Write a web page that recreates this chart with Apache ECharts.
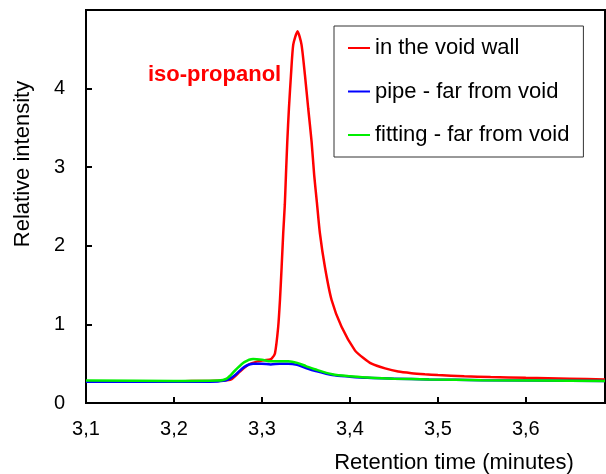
<!DOCTYPE html>
<html><head><meta charset="utf-8">
<script src="https://cdn.jsdelivr.net/npm/echarts@6/dist/echarts.min.js"></script>
<style>html,body{margin:0;padding:0;background:#fff}#c{width:606px;height:474px}</style>
</head><body><div id="c"></div>
<script>
const xTicks = [3.1, 3.2, 3.3, 3.4, 3.5, 3.6];
const yTicks = [0, 1, 2, 3, 4];
const seriesNames = ['in the void wall', 'pipe - far from void', 'fitting - far from void'];
const redT = [3.10,3.15,3.20,3.22,3.24,3.255,3.265,3.275,3.285,3.295,3.303,3.308,3.311,3.3148,3.3185,3.3205,3.3224,3.3242,3.326,3.3273,3.3288,3.3307,3.333,3.3356,3.3405,3.345,3.3489,3.3526,3.3565,3.3594,3.3625,3.3659,3.3716,3.3792,3.3905,3.4057,3.415,3.4246,3.44,3.4549,3.47,3.4852,3.50,3.53,3.56,3.60,3.65,3.69];
const redV = [0.27,0.27,0.275,0.28,0.28,0.285,0.30,0.40,0.49,0.53,0.545,0.55,0.565,0.63,0.97,1.31,1.73,2.16,2.52,2.90,3.32,3.75,4.17,4.56,4.73,4.56,4.17,3.75,3.32,2.90,2.55,2.16,1.73,1.31,0.97,0.67,0.575,0.50,0.44,0.40,0.38,0.366,0.355,0.34,0.33,0.32,0.31,0.30];
const blueT = [3.10,3.20,3.25,3.26,3.27,3.28,3.29,3.30,3.31,3.32,3.33,3.34,3.35,3.36,3.38,3.40,3.42,3.45,3.49,3.55,3.69];
const blueV = [0.27,0.27,0.275,0.29,0.36,0.46,0.50,0.50,0.49,0.50,0.50,0.485,0.446,0.41,0.355,0.335,0.32,0.31,0.30,0.29,0.28];
const greenT = [3.10,3.20,3.25,3.26,3.27,3.28,3.29,3.30,3.31,3.32,3.33,3.34,3.35,3.36,3.38,3.40,3.42,3.45,3.49,3.55,3.69];
const greenV = [0.285,0.28,0.285,0.31,0.42,0.52,0.56,0.55,0.53,0.53,0.53,0.51,0.47,0.43,0.366,0.34,0.325,0.31,0.30,0.29,0.28];
const colors = ['#ff0000', '#0000ff', '#00ee00'];

const zip = (t, v) => t.map((x, i) => [x, v[i]]);
const font = 'Liberation Sans, Arial, sans-serif';
const chart = echarts.init(document.getElementById('c'));
chart.setOption({
  animation: false,
  grid: {left: 86, top: 10, right: 1, bottom: 71, show: true, borderColor: '#000', borderWidth: 2},
  xAxis: {
    type: 'value', min: 3.1, max: 3.69, interval: 0.1,
    axisLine: {lineStyle: {color: '#000', width: 2}},
    axisTick: {inside: true, length: 6, lineStyle: {color: '#000', width: 2}},
    splitLine: {show: false},
    axisLabel: {color: '#000', fontSize: 20, fontFamily: font, margin: 16, showMaxLabel: false,
      formatter: v => xTicks.some(t => Math.abs(t - v) < 1e-6) ? v.toFixed(1).replace('.', ',') : ''}
  },
  yAxis: {
    type: 'value', min: 0, max: 5, interval: 1,
    axisLine: {lineStyle: {color: '#000', width: 2}},
    axisTick: {inside: true, length: 6, lineStyle: {color: '#000', width: 2}},
    splitLine: {show: false},
    axisLabel: {color: '#000', fontSize: 20, fontFamily: font, margin: 21, showMaxLabel: false,
      formatter: v => yTicks.includes(v) ? String(v) : ''}
  },
  legend: {
    orient: 'vertical', left: 334, top: 26,
    padding: [9, 14, 9, 14], itemGap: 17.5,
    borderColor: '#333', borderWidth: 1,
    icon: 'rect', itemWidth: 22, itemHeight: 2,
    textStyle: {fontSize: 22, fontFamily: font, color: '#000', lineHeight: 26},
    data: seriesNames
  },
  series: [
    {name: seriesNames[0], type: 'line', data: zip(redT, redV), smooth: 0.2, showSymbol: false, z: 3,
      lineStyle: {color: colors[0], width: 2.5}, itemStyle: {color: colors[0]}},
    {name: seriesNames[1], type: 'line', data: zip(blueT, blueV), smooth: 0.3, showSymbol: false, z: 4,
      lineStyle: {color: colors[1], width: 2.5}, itemStyle: {color: colors[1]}},
    {name: seriesNames[2], type: 'line', data: zip(greenT, greenV), smooth: 0.3, showSymbol: false, z: 5,
      lineStyle: {color: colors[2], width: 2.5}, itemStyle: {color: colors[2]}}
  ],
  graphic: [
    {type: 'text', left: 148, top: 64, style: {text: 'iso-propanol', fill: '#ff0000', font: 'bold 22px ' + font}},
    {type: 'text', x: 23, y: 164, rotation: Math.PI / 2,
      style: {text: 'Relative intensity', fill: '#000', font: '22px ' + font, align: 'center', verticalAlign: 'middle'}},
    {type: 'text', x: 454, y: 463,
      style: {text: 'Retention time (minutes)', fill: '#000', font: '22px ' + font, align: 'center', verticalAlign: 'middle'}}
  ]
});
</script></body></html>
